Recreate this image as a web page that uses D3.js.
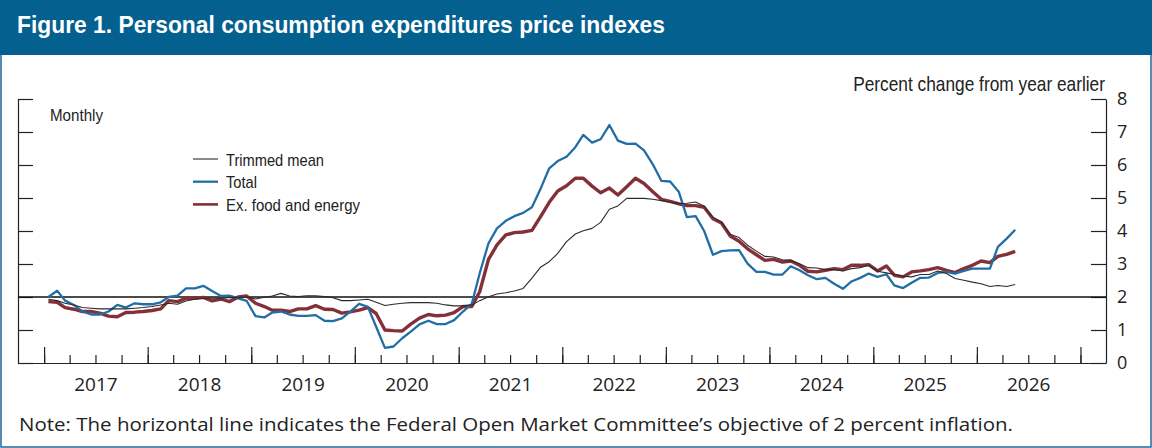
<!DOCTYPE html>
<html>
<head>
<meta charset="utf-8">
<script src="https://cdn.jsdelivr.net/npm/d3@7"></script>
<style>
  html, body { margin: 0; padding: 0; background: #fff; }
  svg { display: block; }
  .narrow { font-family: "Liberation Sans", Arial, sans-serif; }
  .reg { font-family: "Open Sans", "Liberation Sans", Arial, sans-serif; }
</style>
</head>
<body>
<svg id="chart" width="1152" height="448"></svg>
<script>
// monthly, Jan 2017 onward, percent change from year earlier
const firstMonth = [2017, 0];

const trimmedMean = [
  1.93, 1.89, 1.81, 1.76, 1.68, 1.66, 1.64, 1.64, 1.64, 1.64, 1.66, 1.68,
  1.71, 1.76, 1.81, 1.78, 1.88, 1.93, 1.96, 1.96, 1.96, 1.99, 1.98, 2.00,
  1.94, 1.99, 2.03, 2.11, 2.03, 2.01, 2.04, 2.04, 2.01, 1.98, 1.89, 1.89,
  1.91, 1.93, 1.84, 1.74, 1.78, 1.81, 1.83, 1.83, 1.83, 1.81, 1.76, 1.73,
  1.73, 1.76, 1.89, 2.01, 2.09, 2.13, 2.18, 2.26, 2.57, 2.90, 3.07, 3.32,
  3.68, 3.91, 4.01, 4.08, 4.26, 4.66, 4.76, 4.99, 4.99, 4.99, 4.96, 4.92,
  4.87, 4.83, 4.84, 4.88, 4.75, 4.42, 4.27, 3.90, 3.80, 3.57, 3.39, 3.23,
  3.21, 3.13, 3.11, 3.01, 2.89, 2.88, 2.83, 2.83, 2.79, 2.86, 2.89, 2.96,
  2.78, 2.73, 2.68, 2.63, 2.61, 2.68, 2.68, 2.79, 2.71, 2.56, 2.51, 2.45,
  2.40, 2.32, 2.35, 2.32, 2.38
];

const total = [
  2.00, 2.19, 1.89, 1.76, 1.56, 1.47, 1.47, 1.56, 1.76, 1.68, 1.81, 1.78,
  1.78, 1.84, 2.00, 2.04, 2.26, 2.26, 2.34, 2.18, 2.03, 2.04, 1.96, 1.88,
  1.42, 1.38, 1.53, 1.56, 1.47, 1.43, 1.43, 1.45, 1.28, 1.27, 1.35, 1.56,
  1.79, 1.70, 1.10, 0.46, 0.50, 0.75, 0.95, 1.17, 1.28, 1.18, 1.18, 1.30,
  1.56, 1.79, 2.72, 3.63, 4.08, 4.31, 4.45, 4.55, 4.72, 5.27, 5.90, 6.12,
  6.25, 6.54, 6.91, 6.68, 6.78, 7.21, 6.74, 6.64, 6.65, 6.44, 6.02, 5.52,
  5.50, 5.18, 4.42, 4.45, 4.00, 3.28, 3.39, 3.41, 3.42, 3.01, 2.76, 2.76,
  2.68, 2.68, 2.93, 2.81, 2.66, 2.54, 2.58, 2.40, 2.25, 2.47, 2.58, 2.71,
  2.61, 2.69, 2.35, 2.27, 2.43, 2.58, 2.59, 2.73, 2.76, 2.71, 2.79, 2.86,
  2.86, 2.86, 3.52, 3.77, 4.04
];

const exFoodEnergy = [
  1.86, 1.84, 1.68, 1.63, 1.56, 1.56, 1.51, 1.42, 1.40, 1.53, 1.54, 1.56,
  1.59, 1.64, 1.89, 1.86, 1.96, 1.96, 1.99, 1.88, 1.94, 1.86, 2.00, 2.03,
  1.81, 1.71, 1.60, 1.60, 1.56, 1.64, 1.64, 1.74, 1.63, 1.62, 1.51, 1.55,
  1.60, 1.68, 1.50, 1.00, 0.98, 0.97, 1.18, 1.36, 1.47, 1.43, 1.45, 1.53,
  1.71, 1.71, 2.16, 3.14, 3.58, 3.88, 3.95, 3.97, 4.02, 4.43, 4.87, 5.21,
  5.37, 5.60, 5.60, 5.36, 5.16, 5.30, 5.09, 5.34, 5.60, 5.44, 5.19, 4.96,
  4.90, 4.82, 4.77, 4.77, 4.72, 4.37, 4.24, 3.85, 3.69, 3.46, 3.28, 3.11,
  3.14, 3.06, 3.09, 2.96, 2.78, 2.76, 2.81, 2.86, 2.83, 2.96, 2.96, 2.98,
  2.79, 2.94, 2.66, 2.61, 2.76, 2.79, 2.83, 2.89, 2.81, 2.74, 2.86, 2.96,
  3.09, 3.04, 3.23, 3.29, 3.38
];

const seriesNames = ["Trimmed mean", "Total", "Ex. food and energy"];
const yTicks = [0, 1, 2, 3, 4, 5, 6, 7, 8];
const yearLabels = [2017, 2018, 2019, 2020, 2021, 2022, 2023, 2024, 2025, 2026];
const objective = 2;

const colors = {
  "Trimmed mean": "#2b2b2b",
  "Total": "#216ea5",
  "Ex. food and energy": "#843039"
};
const widths = {
  "Trimmed mean": 1.1,
  "Total": 2.3,
  "Ex. food and energy": 3.4
};
// legend label widths, to mimic the condensed face
const legendWidths = { "Trimmed mean": 98, "Total": 31, "Ex. food and energy": 134 };

const W = 1152, H = 448;
const svg = d3.select("#chart");

// frame + title bar
svg.append("rect")
  .attr("x", 1).attr("y", 1).attr("width", W - 2).attr("height", H - 2)
  .attr("fill", "#fff").attr("stroke", "#1d6896").attr("stroke-width", 1.5);
svg.append("rect")
  .attr("x", 0).attr("y", 0).attr("width", W).attr("height", 55)
  .attr("fill", "#03608f");
svg.append("text")
  .attr("class", "narrow")
  .attr("x", 17).attr("y", 33)
  .attr("fill", "#fff")
  .attr("textLength", 648).attr("lengthAdjust", "spacingAndGlyphs")
  .style("font-size", "24px").style("font-weight", "bold")
  .text("Figure 1. Personal consumption expenditures price indexes");

// scales
const x = d3.scaleTime()
  .domain([new Date(2016, 9, 1), new Date(2027, 3, 1)])
  .range([18, 1106]);
const y = d3.scaleLinear().domain([0, 8]).range([363, 99]);

const months = d3.range(total.length).map(i => new Date(firstMonth[0], firstMonth[1] + i, 16));

// axes
const axisStyle = g => {
  g.selectAll("path, line").attr("stroke", "#222").attr("stroke-width", 1.2);
  g.selectAll("text").attr("fill", "#222");
};

const quarters = d3.timeMonth.every(3).range(new Date(2017, 0, 1), new Date(2027, 0, 2));
const years = d3.timeYear.range(new Date(2017, 0, 1), new Date(2027, 0, 2));

svg.append("g")
  .attr("transform", `translate(0,${y(0)})`)
  .call(d3.axisBottom(x).tickValues(quarters).tickSize(-8).tickSizeOuter(0).tickFormat(""))
  .call(axisStyle);
svg.append("g")
  .attr("transform", `translate(0,${y(0)})`)
  .call(d3.axisBottom(x).tickValues(years).tickSize(-16).tickSizeOuter(0).tickFormat(""))
  .call(axisStyle)
  .select(".domain").remove();

// year labels centred mid-year
svg.append("g")
  .attr("transform", `translate(0,${y(0)})`)
  .call(d3.axisBottom(x)
    .tickValues(yearLabels.map(yr => new Date(yr, 6, 1)))
    .tickSize(0).tickPadding(15)
    .tickFormat(d3.timeFormat("%Y")))
  .call(g => g.select(".domain").remove())
  .call(g => g.selectAll("text").attr("class", "reg").style("font-size", "19px").attr("fill", "#222"));

svg.append("g")
  .attr("transform", `translate(${x.range()[0]},0)`)
  .call(d3.axisRight(y).tickValues(yTicks).tickSize(15).tickSizeOuter(0).tickFormat(""))
  .call(axisStyle);

svg.append("g")
  .attr("transform", `translate(${x.range()[1]},0)`)
  .call(d3.axisRight(y).tickValues(yTicks).tickSize(-15).tickSizeOuter(0).tickPadding(11))
  .call(axisStyle)
  .call(g => g.selectAll("text").attr("class", "reg").style("font-size", "18px"));

// objective line
svg.append("line")
  .attr("x1", x.range()[0]).attr("x2", x.range()[1])
  .attr("y1", y(objective)).attr("y2", y(objective))
  .attr("stroke", "#111").attr("stroke-width", 1.4);

// series
const series = [
  { name: "Ex. food and energy", values: exFoodEnergy },
  { name: "Total", values: total },
  { name: "Trimmed mean", values: trimmedMean }
];
const line = d3.line()
  .x((d, i) => x(months[i]))
  .y(d => y(d));

svg.append("g").selectAll("path")
  .data(series)
  .enter().append("path")
  .attr("d", d => line(d.values))
  .attr("fill", "none")
  .attr("stroke", d => colors[d.name])
  .attr("stroke-width", d => widths[d.name])
  .attr("stroke-linejoin", "round");

// labels: squeeze horizontally to look like the condensed face
const unitLabel = svg.append("text")
  .attr("class", "narrow")
  .attr("text-anchor", "end")
  .attr("fill", "#222")
  .style("font-size", "20px")
  .text("Percent change from year earlier");
const unitScale = 252 / unitLabel.node().getComputedTextLength();
unitLabel.attr("transform", `translate(1105,91) scale(${unitScale},1)`);

svg.append("text")
  .attr("class", "narrow")
  .attr("x", 50).attr("y", 121)
  .attr("fill", "#222")
  .attr("textLength", 53).attr("lengthAdjust", "spacingAndGlyphs")
  .style("font-size", "17px")
  .text("Monthly");

// legend
const legend = svg.append("g")
  .attr("transform", "translate(193,159)")
  .selectAll("g")
  .data(seriesNames)
  .enter().append("g")
  .attr("transform", (d, i) => `translate(0,${i * 22.7})`);
legend.append("line")
  .attr("x1", 0).attr("x2", 25)
  .attr("stroke", d => colors[d])
  .attr("stroke-width", d => Math.min(widths[d], 2.6));
legend.append("text")
  .attr("class", "narrow")
  .attr("x", 33).attr("y", 6.5)
  .attr("fill", "#222")
  .attr("textLength", d => legendWidths[d]).attr("lengthAdjust", "spacingAndGlyphs")
  .style("font-size", "17px")
  .text(d => d);

// note
svg.append("text")
  .attr("class", "reg")
  .attr("x", 19).attr("y", 431)
  .attr("fill", "#222")
  .attr("textLength", 994).attr("lengthAdjust", "spacingAndGlyphs")
  .style("font-size", "19px")
  .text("Note: The horizontal line indicates the Federal Open Market Committee\u2019s objective of 2 percent inflation.");
</script>
</body>
</html>
